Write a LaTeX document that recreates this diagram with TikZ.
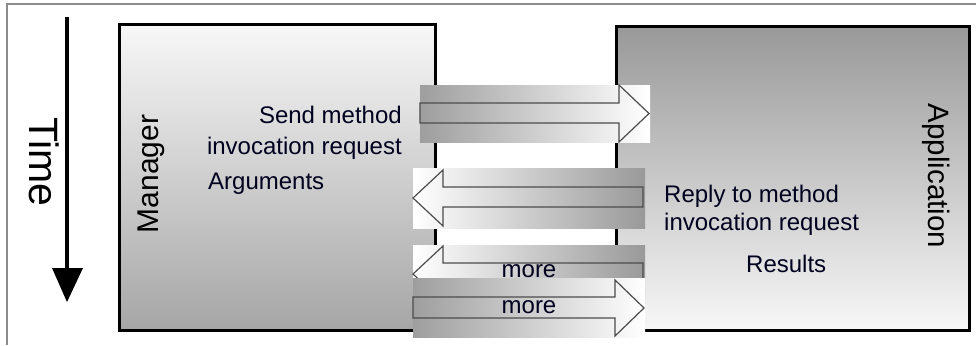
\documentclass[tikz,border=0pt]{standalone}
\usepackage{fontspec}
\setmainfont{Liberation Sans}
\begin{document}
\begin{tikzpicture}[x=1pt,y=-1pt,
  lbl/.style={inner sep=0pt, text=black!88!blue, font=\fontsize{24}{28}\selectfont},
  box/.style={draw=black, line width=3pt, inner sep=0pt},
  arbg/.style={inner sep=0pt, draw=none},
  arline/.style={draw=black!70, line width=1.2pt, line join=miter}]
\useasboundingbox (0,0) rectangle (976,345);
% frame (left and top only)
\draw[black!45, line width=1.5pt] (7,345) -- (7,4) -- (976,4);
% time arrow
\coordinate (t0) at (67,17);
\coordinate (t1) at (67,270);
\draw[line width=4pt] (t0) -- (t1);
\fill (52,268) -- (83,268) -- (67,302) -- cycle;
\node[inner sep=0pt, anchor=base, rotate=-90, font=\fontsize{41}{48}\selectfont] (time) at (29,162) {Time};
% boxes
\node[box, minimum width=316pt, minimum height=306pt, anchor=north west,
      top color=black!3, bottom color=black!35] (mgr) at (118,23) {};
\node[box, minimum width=353pt, minimum height=304pt, anchor=north west,
      top color=black!40, bottom color=black!3] (app) at (615,25) {};
\node[inner sep=0pt, anchor=base, rotate=90, font=\fontsize{30}{36}\selectfont] (mgrl) at (158,174) {Manager};
\node[inner sep=0pt, anchor=base, rotate=-90, font=\fontsize{29.5}{36}\selectfont] (appl) at (928,176) {Application};
% texts
\node[lbl, anchor=base east] (s1) at (402,123) {Send method};
\node[lbl, anchor=base east] (s2) at (402,154) {invocation request};
\node[lbl, anchor=base west] (arg) at (208,189) {Arguments};
\node[lbl, anchor=base west] (r1) at (664,202) {Reply to method};
\node[lbl, anchor=base west] (r2) at (664,230) {invocation request};
\node[lbl, anchor=base west] (res) at (746,272) {Results};
% arrow 1 (send, right)
\node[arbg, minimum width=230pt, minimum height=57pt, anchor=north west,
      left color=black!38, right color=white] (a1) at (420,85) {};
\draw[arline] (420,103) -- (619,103) -- (619,85) -- (649,113.5) -- (619,142) -- (619,123) -- (420,123) -- cycle;
% arrow 2 (reply, left)
\node[arbg, minimum width=232pt, minimum height=60pt, anchor=north west,
      left color=white, right color=black!40] (a2) at (413,168) {};
\draw[arline] (643,187) -- (443,187) -- (443,170) -- (413,198) -- (443,226) -- (443,207) -- (643,207) -- cycle;
% arrow 3 (more, left)
\node[arbg, minimum width=232pt, minimum height=58pt, anchor=north west,
      left color=white, right color=black!40] (a3) at (413,245) {};
\draw[arline] (643,263) -- (443,263) -- (443,246) -- (413,274) -- (443,302) -- (443,283) -- (643,283) -- cycle;
\node[lbl, anchor=base] (m1) at (529,277) {more};
% arrow 4 (more, right)
\node[arbg, minimum width=232pt, minimum height=59pt, anchor=north west,
      left color=black!38, right color=white] (a4) at (413,278) {};
\draw[arline] (413,297) -- (615,297) -- (615,280) -- (644,308) -- (615,336) -- (615,318) -- (413,318) -- cycle;
\node[lbl, anchor=base] (m2) at (529,313) {more};
\end{tikzpicture}
\end{document}
